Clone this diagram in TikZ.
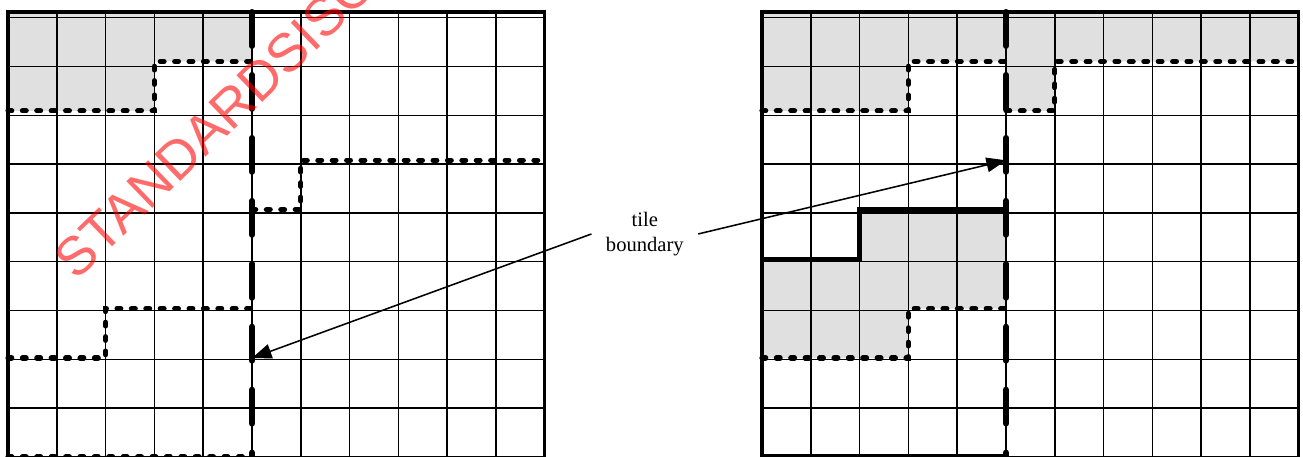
\documentclass[tikz,border=0pt]{standalone}
\usepackage{fontspec}
\setmainfont{Liberation Serif}
\newfontfamily\wmfont{Liberation Sans}
\usepackage{tikz}
\usepackage{xcolor}
\usetikzlibrary{positioning, arrows.meta}

\definecolor{cellgray}{RGB}{224,224,224}

\begin{document}
\begin{tikzpicture}[x=1cm, y=1.013cm,
            gridline/.style={line width=0.9pt},
            border/.style={line width=1.8pt},
            tilebound/.style={line width=3.5pt, line cap=round, dash pattern=on 19.8pt off 16.9pt},
            cutline/.style={line width=3pt, line cap=round, dash pattern=on 2.2pt off 6.2pt},
            solidcut/.style={line width=3pt},
            ptr/.style={line width=0.9pt, -{Triangle[length=4mm, width=3mm]}},
            lbl/.style={align=center, inner xsep=0.29cm, font=\fontsize{12}{14.5}\selectfont},
            wmark/.style={text=red, opacity=0.58, font=\wmfont\fontsize{31.5}{34}\selectfont}]
            \useasboundingbox (-0.164, 0) rectangle (26.537, 9.243);

            % left grid
            \fill[cellgray] (0, 9) -- (5, 9) -- (5, 8) -- (3, 8) -- (3, 7) -- (0, 7) -- cycle;
            \draw[gridline] (0, 0) grid (11, 9);
            \draw[border] (0, 0) -- (0, 9) -- (11, 9) -- (11, 0);
            \draw[cutline] (0, 7) -- (3, 7) -- (3, 8) -- (5, 8);
            \draw[cutline] (5, 5) -- (6, 5) -- (6, 6) -- (11, 6);
            \draw[cutline] (0, 2) -- (2, 2) -- (2, 3) -- (5, 3);
            \draw[cutline] (0, 0) -- (5, 0);
            \draw[tilebound] (5, 9) -- (5, 0);
            \coordinate (tipL) at (5, 2);

            % right grid
            \begin{scope}[xshift=15.45cm]
            \fill[cellgray] (0, 9) -- (11, 9) -- (11, 8) -- (6, 8) -- (6, 7) -- (5, 7) -- (5, 8) -- (3, 8) -- (3, 7) -- (0, 7) -- cycle;
            \fill[cellgray] (0, 4) -- (2, 4) -- (2, 5) -- (5, 5) -- (5, 3) -- (3, 3) -- (3, 2) -- (0, 2) -- cycle;
            \draw[gridline] (0, 0) grid (11, 9);
            \draw[border] (0, 0) -- (0, 9) -- (11, 9) -- (11, 0);
            \draw[cutline] (0, 7) -- (3, 7) -- (3, 8) -- (5, 8);
            \draw[cutline] (5, 7) -- (6, 7) -- (6, 8) -- (11, 8);
            \draw[cutline] (0, 2) -- (3, 2) -- (3, 3) -- (5, 3);
            \draw[solidcut] (0, 4) -- (2, 4) -- (2, 5) -- (5, 5);
            \draw[solidcut] (0, 0) -- (5, 0);
            \draw[tilebound] (5, 9) -- (5, 0);
            \coordinate (tipR) at (5, 6);
            \end{scope}

            \node[lbl] (tb) at (13.05, 4.51) {tile\\boundary};
            \draw[ptr] (tb.west) -- (tipL);
            \draw[ptr] (tb.east) -- (tipR);

            \node[wmark, rotate=44] (wm) at (4.25, 6.78) {STANDARDSISO};
        \end{tikzpicture}
\end{document}
